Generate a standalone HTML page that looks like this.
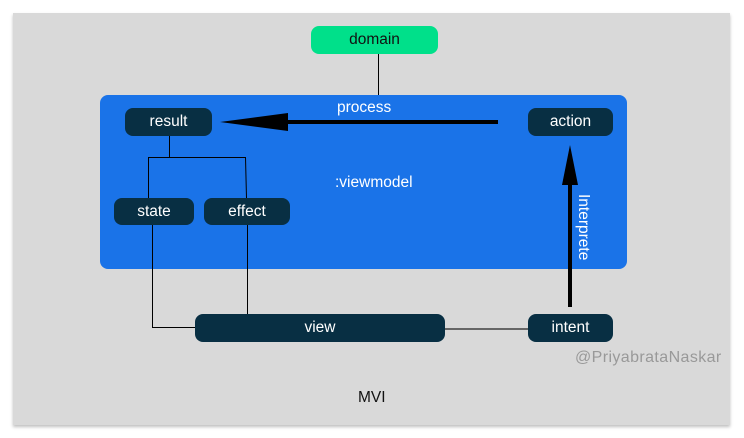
<!DOCTYPE html>
<html><head><style>
body{margin:0;width:744px;height:438px;background:#fff;position:relative;overflow:hidden;font-family:"Liberation Sans",sans-serif}
.n{position:absolute;background:#082f43;color:#fff;border-radius:8px;display:flex;align-items:center;justify-content:center;font-size:15.5px}
.t{position:absolute;font-size:15.5px}
</style></head><body>
<div style="position:absolute;left:13px;top:13px;width:717px;height:412px;background:#d9d9d9;box-shadow:0 2px 3px rgba(0,0,0,.25)"></div>
<div style="position:absolute;left:100px;top:95px;width:527px;height:174px;background:#1a73e8;border-radius:8px"></div>
<div class="n" style="left:311px;top:26px;width:127px;height:28px;background:#00e08a;color:#111">domain</div>
<svg style="position:absolute;left:0;top:0" width="744" height="438">
<line x1="378.5" y1="54" x2="378.5" y2="95" stroke="#000"/>
<polyline points="169.5,136 169.5,157.5 148.5,157.5 148.5,198" fill="none" stroke="#000"/>
<polyline points="169.5,157.5 245.5,157.5 246.5,198" fill="none" stroke="#000"/>
<polyline points="152.5,225 152.5,327.5 195,327.5" fill="none" stroke="#000"/>
<line x1="247.5" y1="225" x2="247.5" y2="314" stroke="#000"/>
<line x1="445" y1="329" x2="528" y2="329" stroke="#666" stroke-width="2"/>
<line x1="498" y1="122" x2="285" y2="122" stroke="#000" stroke-width="4"/>
<polygon points="220,122 288,113 288,131" fill="#000"/>
<line x1="570" y1="307" x2="570" y2="182" stroke="#000" stroke-width="4"/>
<polygon points="570,145 562,185 578,185" fill="#000"/>
</svg>
<div class="n" style="left:125px;top:108px;width:87px;height:28px">result</div>
<div class="n" style="left:528px;top:108px;width:85px;height:28px">action</div>
<div class="n" style="left:114px;top:198px;width:80px;height:27px">state</div>
<div class="n" style="left:204px;top:198px;width:86px;height:27px">effect</div>
<div class="n" style="left:195px;top:314px;width:250px;height:28px">view</div>
<div class="n" style="left:528px;top:314px;width:85px;height:28px">intent</div>
<div class="t" style="left:337px;top:99px;color:#fff">process</div>
<div class="t" style="left:335px;top:174px;color:#fff">:viewmodel</div>
<div class="t" style="left:574px;top:194px;color:#fff;writing-mode:vertical-rl">Interprete</div>
<div class="t" style="left:575px;top:349px;color:#999;font-size:16px;letter-spacing:.4px">@PriyabrataNaskar</div>
<div class="t" style="left:358px;top:389px;color:#111">MVI</div>
</body></html>
